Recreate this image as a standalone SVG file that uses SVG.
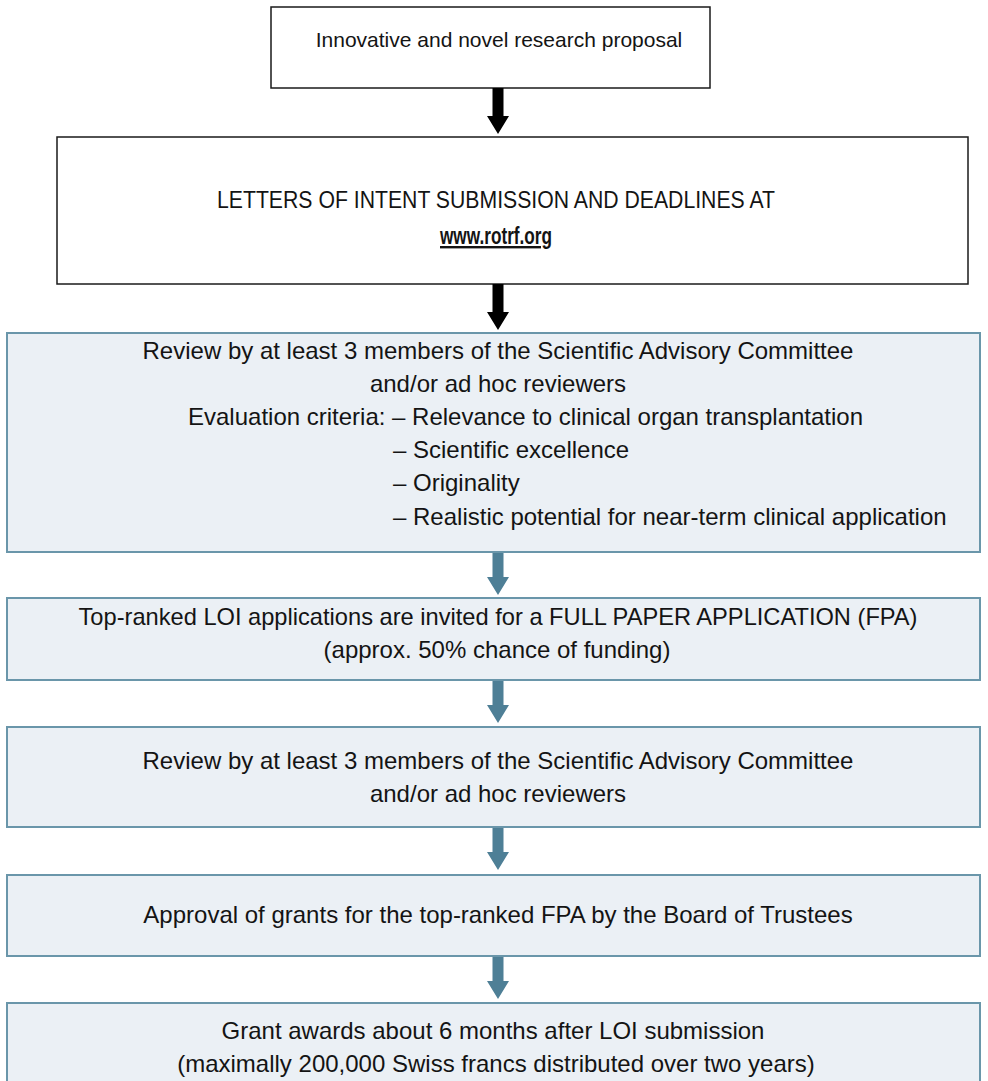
<svg xmlns="http://www.w3.org/2000/svg" width="988" height="1081" viewBox="0 0 988 1081">
<style>
.t{font-family:"Liberation Sans",Arial,sans-serif;font-size:24px;fill:#141414}
.s{font-size:21px}
.c{text-anchor:middle}
.wb{fill:#ffffff;stroke:#1a1a1a;stroke-width:1.5}
.bb{fill:#ebf0f5;stroke:#6a96aa;stroke-width:2}
.ka{fill:#000000}
.ba{fill:#4e7f96}
</style>
<rect width="988" height="1081" fill="#ffffff"/>
<g id="n1">
<rect class="wb" x="271" y="7" width="439" height="81"/>
<text class="t s c" x="499" y="47">Innovative and novel research proposal</text>
</g>
<g id="n2">
<rect class="wb" x="57" y="137" width="911" height="147"/>
<text class="t c" x="496" y="208" font-size="22" textLength="558" lengthAdjust="spacingAndGlyphs">LETTERS OF INTENT SUBMISSION AND DEADLINES AT</text>
<text class="t c" x="496" y="244" font-size="23" font-weight="bold" text-decoration="underline" textLength="112" lengthAdjust="spacingAndGlyphs">www.rotrf.org</text>
</g>
<g id="n3">
<rect class="bb" x="7" y="333" width="973" height="219"/>
<text class="t c" x="498" y="359">Review by at least 3 members of the Scientific Advisory Committee</text>
<text class="t c" x="498" y="392">and/or ad hoc reviewers</text>
<text class="t" x="188" y="425">Evaluation criteria: – Relevance to clinical organ transplantation</text>
<text class="t" x="393" y="458">– Scientific excellence</text>
<text class="t" x="393" y="491">– Originality</text>
<text class="t" x="393" y="525">– Realistic potential for near-term clinical application</text>
</g>
<g id="n4">
<rect class="bb" x="7" y="598" width="973" height="82"/>
<text class="t c" x="498" y="625" textLength="839" lengthAdjust="spacingAndGlyphs">Top-ranked LOI applications are invited for a FULL PAPER APPLICATION (FPA)</text>
<text class="t c" x="497" y="658">(approx. 50% chance of funding)</text>
</g>
<g id="n5">
<rect class="bb" x="7" y="727" width="973" height="100"/>
<text class="t c" x="498" y="769">Review by at least 3 members of the Scientific Advisory Committee</text>
<text class="t c" x="498" y="802">and/or ad hoc reviewers</text>
</g>
<g id="n6">
<rect class="bb" x="7" y="875" width="973" height="81"/>
<text class="t c" x="498" y="923">Approval of grants for the top-ranked FPA by the Board of Trustees</text>
</g>
<g id="n7">
<rect class="bb" x="7" y="1003" width="973" height="100"/>
<text class="t c" x="493" y="1039" font-size="23.5">Grant awards about 6 months after LOI submission</text>
<text class="t c" x="496" y="1072" font-size="23.5">(maximally 200,000 Swiss francs distributed over two years)</text>
</g>
<g id="connectors">
<path class="ka" d="M492.5 88 H503.5 V116 H509 L498 134 L487 116 H492.5 Z"/>
<path class="ka" d="M492.5 284 H503.5 V312 H509 L498 330 L487 312 H492.5 Z"/>
<path class="ba" d="M492.5 553 H503.5 V577 H509 L498 595 L487 577 H492.5 Z"/>
<path class="ba" d="M492.5 681 H503.5 V705 H509 L498 723 L487 705 H492.5 Z"/>
<path class="ba" d="M492.5 828 H503.5 V852 H509 L498 870 L487 852 H492.5 Z"/>
<path class="ba" d="M492.5 957 H503.5 V981 H509 L498 999 L487 981 H492.5 Z"/>
</g>
</svg>
